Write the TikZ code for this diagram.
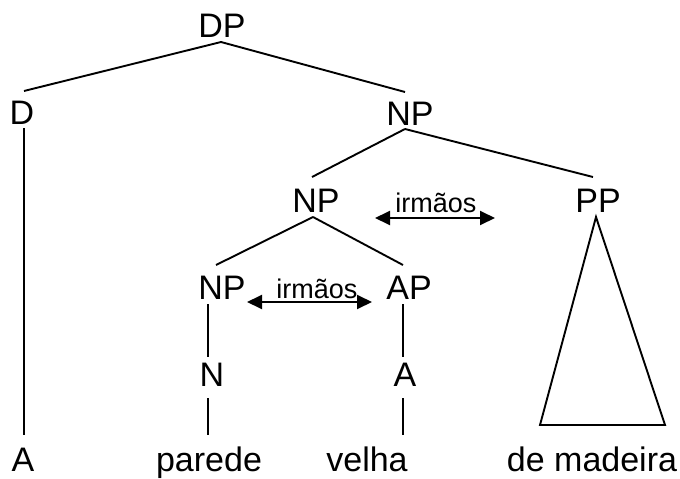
\documentclass[tikz,border=0pt]{standalone}
\usepackage{fontspec}
\setmainfont{Liberation Sans}
\usetikzlibrary{arrows.meta}
\begin{document}
\begin{tikzpicture}[x=1pt,y=-1pt,
  lab/.style={inner sep=0pt, outer sep=0pt, text height=24pt, text depth=0pt, font=\fontsize{34}{40}\selectfont},
  word/.style={inner sep=0pt, outer sep=0pt, anchor=base, font=\fontsize{34}{40}\selectfont},
  edge/.style={line width=1.9pt},
  sib/.style={line width=1.9pt, {Triangle[length=15pt,width=14pt]}-{Triangle[length=15pt,width=14pt]}},
  sibtxt/.style={font=\fontsize{27}{32}\selectfont, inner sep=0pt, anchor=base}]
\useasboundingbox (0,0) rectangle (680,479);
% labels
\node[lab] (dp) at (222,25) {DP};
\node[lab] (d) at (22,112) {D};
\node[lab] (np1) at (410,113) {NP};
\node[lab] (np2) at (316,200) {NP};
\node[lab] (pp) at (598,200) {PP};
\node[lab] (np3) at (222,287) {NP};
\node[lab] (ap) at (409,287) {AP};
\node[lab] (n) at (212,374) {N};
\node[lab] (a) at (405,374) {A};
% words
\node[word] (wa) at (23,471) {A};
\node[word] (wpar) at (209,471) {parede};
\node[word] (wvel) at (367,471) {velha};
\node[word] (wmad) at (592,471) {de madeira};
% edges
\draw[edge] ([xshift=-1pt,yshift=-5pt]dp.south) -- ([xshift=2pt,yshift=9pt]d.north);
\draw[edge] ([xshift=-1pt,yshift=-5pt]dp.south) -- ([xshift=-5pt,yshift=9pt]np1.north);
\draw[edge] ([xshift=-5pt,yshift=-4pt]np1.south) -- ([xshift=-4pt,yshift=11pt]np2.north);
\draw[edge] ([xshift=-5pt,yshift=-4pt]np1.south) -- ([xshift=-5pt,yshift=11pt]pp.north);
\draw[edge] ([xshift=-3pt,yshift=-5pt]np2.south) -- ([xshift=-6pt,yshift=10pt]np3.north);
\draw[edge] ([xshift=-3pt,yshift=-5pt]np2.south) -- ([xshift=-6pt,yshift=10pt]ap.north);
\draw[edge] ([xshift=2pt,yshift=-4pt]d.south) -- ([xshift=2pt,yshift=36pt]d.south |- wa.base);
\draw[edge] ([xshift=-14pt,yshift=-5pt]np3.south) -- ([xshift=-4pt,yshift=5pt]n.north);
\draw[edge] ([xshift=-4pt,yshift=-12pt]n.south) -- ([xshift=-4pt,yshift=36pt]n.south |- wpar.base);
\draw[edge] ([xshift=-6pt,yshift=-5pt]ap.south) -- ([xshift=-2pt,yshift=5pt]a.north);
\draw[edge] ([xshift=-2pt,yshift=-12pt]a.south) -- ([xshift=-2pt,yshift=36pt]a.south |- wvel.base);
% triangle
\coordinate (tl) at (540,425);
\coordinate (tr) at (665,425);
\draw[edge, line join=miter] ([xshift=-2pt,yshift=-5pt]pp.south) -- (tl) -- (tr) -- cycle;
% sibling arrows
\coordinate (s1l) at (375,218);
\coordinate (s1r) at (495,218);
\draw[sib] (s1l) -- (s1r);
\node[sibtxt] (t1) at (436,212) {irmãos};
\coordinate (s2l) at (247,302);
\coordinate (s2r) at (372,302);
\draw[sib] (s2l) -- (s2r);
\node[sibtxt] (t2) at (317,298) {irmãos};
\end{tikzpicture}
\end{document}
